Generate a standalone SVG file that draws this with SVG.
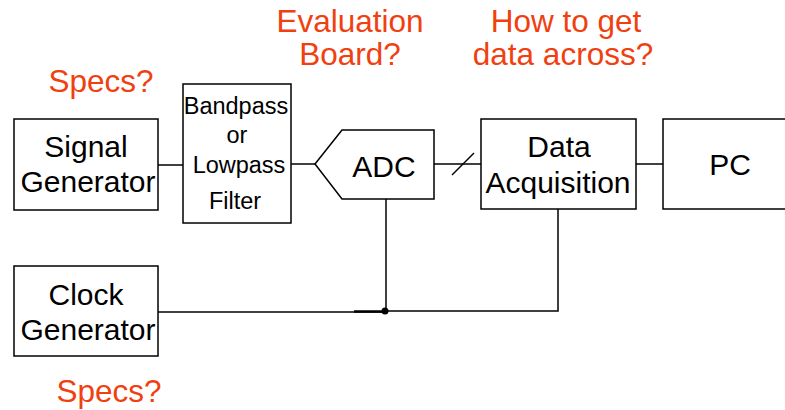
<svg xmlns="http://www.w3.org/2000/svg" width="785" height="410" viewBox="0 0 785 410">
<style>
.box{fill:#fff;stroke:#000;stroke-width:1.5}
.t{font-family:"Liberation Sans",Arial,sans-serif;font-size:30px;fill:#000;text-anchor:middle}
.f{font-family:"Liberation Sans",Arial,sans-serif;font-size:23.5px;fill:#000;text-anchor:middle}
.q{font-family:"Liberation Sans",Arial,sans-serif;font-size:31.5px;fill:#F04010;text-anchor:middle}
.w{fill:none;stroke:#000;stroke-width:1.5}
</style>
<rect width="785" height="410" fill="#fff"/>
<g id="connectors">
<line class="w" x1="158" y1="165" x2="183" y2="165"/>
<line class="w" x1="291" y1="164" x2="315" y2="164"/>
<line class="w" x1="434" y1="164" x2="481" y2="164"/>
<line class="w" x1="452" y1="175" x2="474" y2="153"/>
<line class="w" x1="636" y1="164" x2="663" y2="164"/>
<line class="w" x1="386" y1="199" x2="386" y2="311"/>
<polyline class="w" points="558,209 558,311 386,311"/>
<line class="w" x1="158" y1="312" x2="386" y2="312"/>
<line stroke="#000" stroke-width="2.5" x1="354" y1="311.5" x2="386" y2="311.5"/>
<circle cx="385" cy="311" r="3.5" fill="#000"/>
</g>
<g id="signal-generator">
<rect class="box" x="14" y="119" width="144" height="91"/>
<text class="t" x="86" y="157">Signal</text>
<text class="t" x="88" y="192">Generator</text>
</g>
<g id="filter">
<rect class="box" x="183" y="84" width="108" height="139"/>
<text class="f" x="236" y="114">Bandpass</text>
<text class="f" x="237" y="143">or</text>
<text class="f" x="239" y="173">Lowpass</text>
<text class="f" x="235" y="209">Filter</text>
</g>
<g id="adc">
<polygon class="box" points="315,164 342,130 434,130 434,199 342,199"/>
<text class="t" x="384" y="177">ADC</text>
</g>
<g id="data-acquisition">
<rect class="box" x="481" y="119" width="155" height="90"/>
<text class="t" x="559" y="157">Data</text>
<text class="t" x="558" y="193">Acquisition</text>
</g>
<g id="pc">
<rect class="box" x="663" y="119" width="130" height="90"/>
<text class="t" x="730" y="175">PC</text>
</g>
<g id="clock-generator">
<rect class="box" x="14" y="266" width="144" height="90"/>
<text class="t" x="86" y="305">Clock</text>
<text class="t" x="88" y="340">Generator</text>
</g>
<g id="annotations">
<text class="q" x="101" y="92">Specs?</text>
<text class="q" x="109" y="402">Specs?</text>
<text class="q" x="350" y="32">Evaluation</text>
<text class="q" x="350" y="65">Board?</text>
<text class="q" x="566" y="32">How to get</text>
<text class="q" x="563" y="65">data across?</text>
</g>
</svg>
